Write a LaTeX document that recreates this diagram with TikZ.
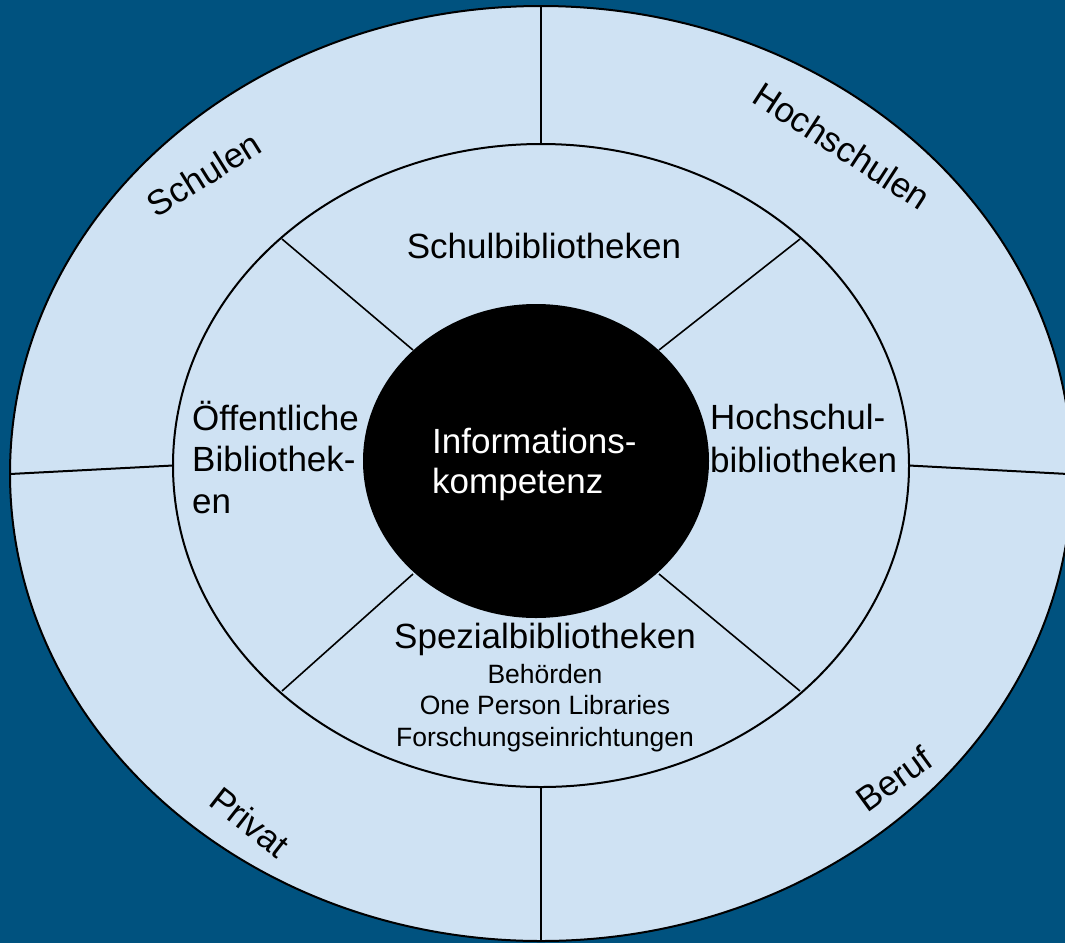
\documentclass[tikz,border=0pt]{standalone}
\usepackage{fontspec}
\setmainfont{Liberation Sans}
\usetikzlibrary{shapes.geometric}
\definecolor{bgblue}{RGB}{0,82,127}
\definecolor{ringblue}{RGB}{207,226,243}
\begin{document}
\begin{tikzpicture}[x=1pt,y=-1pt,
  ring/.style={ellipse,inner sep=0pt,fill=ringblue,draw=black,line width=2pt},
  core/.style={ellipse,inner sep=0pt,fill=black,draw=none},
  divider/.style={draw=black,line width=2pt},
  spoke/.style={draw=black,line width=1.6pt},
  bigtext/.style={inner sep=0pt,font=\fontsize{35}{41.5}\selectfont},
  smalltext/.style={inner sep=0pt,font=\fontsize{26.5}{31.5}\selectfont},
  outerlabel/.style={inner sep=0pt,font=\fontsize{35}{41}\selectfont}]
\useasboundingbox (0,0) rectangle (1065,943);
\fill[bgblue] (0,0) rectangle (1065,943);

% outer ring
\node[ring,minimum width=1062pt,minimum height=935pt] (outer) at (541,473.5) {};
\coordinate (ot) at (541,6);
\coordinate (ob) at (541,941);
\coordinate (ol) at (10,474);
\coordinate (or) at (1068,474);
\coordinate (it) at (541,144);
\coordinate (ib) at (541,787);
\coordinate (il) at (173,465.5);
\coordinate (ir) at (909,465.5);
\draw[divider] (ot) -- (it);
\draw[divider] (ib) -- (ob);
\draw[divider] (ol) -- (il);
\draw[divider] (ir) -- (or);

% inner ring
\node[ring,minimum width=736pt,minimum height=643pt] (inner) at (541,465.5) {};
\coordinate (sul) at (282,239);
\coordinate (sur) at (800,239);
\coordinate (sll) at (282,691);
\coordinate (slr) at (800,691);
\coordinate (cul) at (413,350);
\coordinate (cur) at (659,350);
\coordinate (cll) at (413,574);
\coordinate (clr) at (659,574);
\draw[spoke] (sul) -- (cul);
\draw[spoke] (sur) -- (cur);
\draw[spoke] (sll) -- (cll);
\draw[spoke] (slr) -- (clr);

% core
\node[core,minimum width=346pt,minimum height=314pt] (center) at (536,461) {};

% texts (base anchor = baseline of the last line)
\node[bigtext,text=white,align=left,anchor=base west,font=\fontsize{35}{40}\selectfont] (ik) at (432,493) {Informations-\\kompetenz};
\node[bigtext,anchor=base] (schulbib) at (544,258) {Schulbibliotheken};
\node[bigtext,align=left,anchor=base west] (oeff) at (192,513) {Öffentliche\\Bibliothek-\\en};
\node[bigtext,align=left,anchor=base west,font=\fontsize{35}{43}\selectfont] (hsbib) at (710,472) {Hochschul-\\bibliotheken};
\node[bigtext,anchor=base] (spez) at (545,648) {Spezialbibliotheken};
\node[smalltext,align=center,anchor=base] (spezsub) at (545,746) {Behörden\\One Person Libraries\\Forschungseinrichtungen};

\node[outerlabel,rotate=32] (schulen) at (204,174) {Schulen};
\node[outerlabel,rotate=-33] (hochschulen) at (842,146) {Hochschulen};
\node[outerlabel,rotate=-38] (privat) at (250,822) {Privat};
\node[outerlabel,rotate=36] (beruf) at (894,779) {Beruf};
\end{tikzpicture}
\end{document}
